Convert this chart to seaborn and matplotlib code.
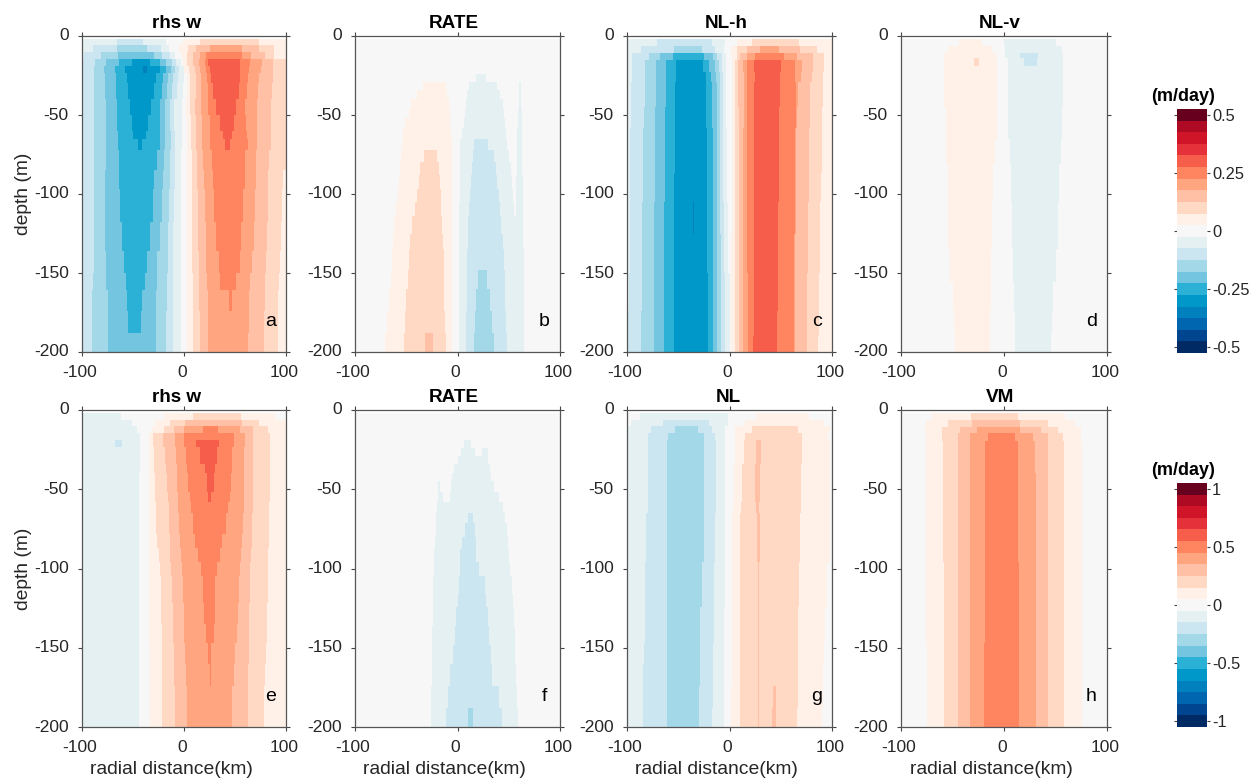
import numpy as np
import pandas as pd
import matplotlib
matplotlib.use("Agg")
import matplotlib.pyplot as plt
from matplotlib.colors import ListedColormap
from matplotlib.transforms import ScaledTranslation
import seaborn as sns

# each row reads: level, right edge (km), level, right edge, ..., last level
# a row reaches down to the depth given in the matching *_depths list

a_depths = [6, 10, 14.5, 19, 23.5, 30, 40, 50, 60, 65, 72, 85, 97, 118, 136, 150, 161, 174, 188, 200]
a_rows = [
    [-1,-66,-2,-40,-1,-18,0,-1,1,16,2,74,1],
    [-1,-89,-2,-66,-3,-36,-2,-23,-1,-15,0,-5,1,4,2,12,3,25,4,57,3,74,2,88,1],
    [-1,-98,-2,-81,-3,-65,-4,-29,-3,-22,-2,-14,-1,-9,0,-2,1,3,2,9,3,16,4,22,5,57,4,66,3,79,2,88,1],
    [-2,-87,-3,-76,-4,-64,-5,-51,-6,-33,-5,-24,-4,-18,-3,-12,-2,-8,-1,-3,0,-1,1,3,2,9,3,15,4,21,5,24,6,55,5,65,4,76,3,87,2],
    [-2,-88,-3,-78,-4,-68,-5,-58,-6,-40,-7,-36,-6,-24,-5,-18,-4,-13,-3,-9,-2,-5,-1,0,1,5,2,11,3,16,4,22,5,25,6,55,5,64,4,75,3,87,2],
    [-2,-88,-3,-77,-4,-67,-5,-56,-6,-27,-5,-21,-4,-16,-3,-11,-2,-6,-1,0,0,3,1,6,2,12,3,17,4,23,5,26,6,55,5,63,4,74,3,87,2],
    [-2,-88,-3,-77,-4,-67,-5,-55,-6,-29,-5,-22,-4,-17,-3,-12,-2,-7,-1,-1,0,3,1,6,2,12,3,17,4,24,5,28,6,54,5,62,4,73,3,86,2],
    [-2,-88,-3,-76,-4,-66,-5,-53,-6,-32,-5,-24,-4,-19,-3,-14,-2,-10,-1,-2,0,2,1,6,2,11,3,17,4,24,5,31,6,51,5,60,4,72,3,85,2],
    [-2,-88,-3,-76,-4,-66,-5,-51,-6,-35,-5,-24,-4,-19,-3,-14,-2,-10,-1,-2,0,3,1,7,2,12,3,18,4,25,5,35,6,49,5,61,4,72,3,85,2],
    [-2,-88,-3,-76,-4,-65,-5,-50,-6,-37,-5,-24,-4,-19,-3,-13,-2,-9,-1,-2,0,3,1,7,2,12,3,18,4,25,5,38,6,47,5,62,4,72,3,85,2],
    [-2,-88,-3,-76,-4,-65,-5,-45,-6,-41,-5,-24,-4,-19,-3,-13,-2,-9,-1,-2,0,3,1,7,2,12,3,18,4,25,5,40,6,45,5,63,4,72,3,85,2],
    [-2,-88,-3,-76,-4,-64,-5,-26,-4,-20,-3,-14,-2,-9,-1,-3,0,3,1,8,2,13,3,19,4,27,5,60,4,71,3,83,2],
    [-2,-88,-3,-77,-4,-64,-5,-29,-4,-21,-3,-14,-2,-9,-1,-3,0,3,1,8,2,13,3,20,4,28,5,60,4,71,3,82,2,97,1],
    [-2,-88,-3,-77,-4,-63,-5,-30,-4,-22,-3,-15,-2,-10,-1,-3,0,3,1,8,2,14,3,21,4,29,5,58,4,70,3,82,2,96,1],
    [-2,-88,-3,-77,-4,-61,-5,-33,-4,-24,-3,-16,-2,-11,-1,-3,0,3,1,8,2,14,3,22,4,31,5,56,4,69,3,81,2,95,1],
    [-2,-88,-3,-76,-4,-59,-5,-36,-4,-26,-3,-16,-2,-11,-1,-3,0,3,1,8,2,15,3,22,4,34,5,55,4,67,3,80,2,94,1],
    [-2,-89,-3,-76,-4,-57,-5,-38,-4,-26,-3,-17,-2,-11,-1,-3,0,3,1,9,2,15,3,23,4,35,5,51,4,65,3,79,2,93,1],
    [-2,-90,-3,-75,-4,-56,-5,-41,-4,-27,-3,-17,-2,-11,-1,-3,0,3,1,9,2,15,3,24,4,44,5,47,4,64,3,79,2,92,1],
    [-2,-90,-3,-75,-4,-55,-5,-42,-4,-27,-3,-18,-2,-11,-1,-3,0,3,1,9,2,16,3,24,4,64,3,78,2,92,1],
    [-2,-90,-3,-75,-4,-27,-3,-18,-2,-11,-1,-3,0,3,1,9,2,16,3,24,4,63,3,78,2,92,1],
]

b_depths = [24, 29, 34, 40, 46, 52, 58, 65, 72, 80, 88, 97, 105, 114, 125, 135, 148, 160, 174, 188, 200]
b_rows = [
    [0],
    [0,18,-1,28,0],
    [0,-34,1,-11,0,11,-1,39,0,60,-1,62,0],
    [0,-40,1,-10,0,9,-1,41,0,60,-1,62,0],
    [0,-45,1,-8,0,8,-1,44,0,60,-1,62,0],
    [0,-47,1,-7,0,7,-1,45,0,59,-1,63,0],
    [0,-51,1,-7,0,6,-1,46,0,59,-1,63,0],
    [0,-53,1,-6,0,4,-1,47,0,58,-1,63,0],
    [0,-54,1,-5,0,2,-1,16,-2,30,-1,48,0,58,-1,63,0],
    [0,-55,1,-33,2,-20,1,-5,0,2,-1,15,-2,36,-1,50,0,58,-1,63,0],
    [0,-56,1,-37,2,-18,1,-5,0,2,-1,14,-2,38,-1,52,0,58,-1,63,0],
    [0,-57,1,-38,2,-17,1,-5,0,1.5,-1,13,-2,39,-1,53,0,57,-1,64,0],
    [0,-58,1,-40,2,-16,1,-5,0,1.5,-1,12,-2,40,-1,54,0,57,-1,64,0],
    [0,-60,1,-41,2,-16,1,-5,0,1,-1,11,-2,41,-1,55,0,57,-1,64,0],
    [0,-62,1,-44,2,-15,1,-5,0,1,-1,10,-2,42,-1,64,0],
    [0,-63,1,-46,2,-14,1,-5,0,1,-1,10,-2,44,-1,64,0],
    [0,-64,1,-47,2,-13,1,-5,0,1,-1,9,-2,45,-1,65,0],
    [0,-65,1,-48,2,-13,1,-5,0,1,-1,9,-2,20,-3,29,-2,46,-1,65,0],
    [0,-67,1,-50,2,-13,1,-5,0,1,-1,9,-2,18,-3,32,-2,46,-1,65,0],
    [0,-69,1,-51,2,-12,1,-5,0,1,-1,8,-2,17,-3,34,-2,47,-1,65,0],
    [0,-71,1,-52,2,-32,3,-24,2,-11,1,-5,0,1,-1,8,-2,16,-3,36,-2,48,-1,65,0],
]

c_depths = [6.5, 10.5, 15, 23, 29, 45, 58, 87, 105, 125, 150, 174, 190, 200]
c_rows = [
    [-1,-71,-2,-17,-1,-4,0,7,1,22,2,68,1],
    [-1,-86,-2,-54,-3,-27,-2,-14,-1,-5,0,1,1,7,2,17,3,30,4,48,3,69,2,85,1],
    [-1,-95,-2,-79,-3,-68,-4,-55,-5,-25,-4,-16,-3,-12,-2,-7,-1,-3,0,2,1,7,2,10,3,17,4,25,5,53,4,66,3,81,2,92,1],
    [-1,-95,-2,-82,-3,-72,-4,-62,-5,-52,-6,-26,-5,-20,-4,-14,-3,-10,-2,-7,-1,-3,0,2,1,5,2,8,3,13,4,17,5,24,6,50,5,64,4,71,3,81,2,92,1],
    [-1,-95,-2,-82,-3,-72,-4,-62,-5,-52,-6,-23,-5,-18,-4,-13,-3,-9,-2,-6,-1,-3,0,2,1,5,2,8,3,14,4,17,5,25,6,49,5,64,4,70,3,80,2,91,1],
    [-1,-96,-2,-82,-3,-72,-4,-62,-5,-53,-6,-23,-5,-17,-4,-12,-3,-9,-2,-6,-1,-3,0,2,1,5,2,8,3,14,4,17,5,24,6,49,5,65,4,67,3,79,2,91,1],
    [-1,-96,-2,-83,-3,-73,-4,-63,-5,-53,-6,-23,-5,-17,-4,-12,-3,-9,-2,-6,-1,-3,0,2,1,5,2,9,3,14,4,17,5,24,6,48,5,65,4,66,3,79,2,90,1],
    [-1,-97,-2,-84,-3,-73,-4,-63,-5,-53,-6,-22,-5,-16,-4,-12,-3,-9,-2,-6,-1,-2,0,2,1,5,2,9,3,13,4,17,5,24,6,48,5,64,4,65,3,78,2,90,1],
    [-1,-97,-2,-84,-3,-73,-4,-63,-5,-54,-6,-22,-5,-16,-4,-12,-3,-9,-2,-6,-1,-2,0,2,1,5,2,9,3,13,4,17,5,24,6,48,5,64,4,65,3,78,2,89,1],
    [-1,-97,-2,-85,-3,-74,-4,-64,-5,-54,-6,-36,-7,-35,-6,-22,-5,-16,-4,-12,-3,-9,-2,-5,-1,-1,0,2,1,5,2,9,3,13,4,17,5,24,6,47,5,64,4,65,3,77,2,88,1],
    [-1,-97,-2,-85,-3,-74,-4,-64,-5,-54,-6,-22,-5,-16,-4,-12,-3,-8,-2,-5,-1,-1,0,1,1,5,2,9,3,13,4,17,5,24,6,47,5,63,4,64,3,77,2,88,1],
    [-1,-98,-2,-85,-3,-74,-4,-64,-5,-54,-6,-21,-5,-16,-4,-12,-3,-8,-2,-4,-1,0,0,1,1,5,2,9,3,13,4,18,5,24,6,47,5,63,4,64,3,76,2,87,1],
    [-2,-86,-3,-74,-4,-64,-5,-54,-6,-21,-5,-16,-4,-12,-3,-8,-2,-4,-1,0,0,1,1,5,2,9,3,13,4,18,5,24,6,46,5,63,4,64,3,76,2,87,1],
    [-2,-86,-3,-74,-4,-64,-5,-54,-6,-21,-5,-16,-4,-12,-3,-8,-2,-4,-1,0,0,1,1,5,2,9,3,13,4,18,5,23,6,46,5,63,4,64,3,76,2,86,1],
]

d_depths = [6.5, 10.5, 14, 19, 45, 65, 81, 105, 135, 156, 174, 188, 200]
d_rows = [
    [0,-44,1,-21,0,0,-1,50,0],
    [0,-54,1,-12,0,1,-1,56,0],
    [0,-58,1,-8,0,1,-1,16,-2,33,-1,57,0],
    [0,-58,1,-29,2,-24,1,-7,0,4,-1,19,-2,32,-1,57,0],
    [0,-58,1,-7,0,4,-1,57,0],
    [0,-56,1,-7,0,4,-1,56,0],
    [0,-56,1,-9,0,6,-1,55,0],
    [0,-54,1,-11,0,7,-1,53,0],
    [0,-54,1,-12,0,8,-1,52,0],
    [0,-52,1,-13,0,9,-1,50,0],
    [0,-50,1,-13,0,10,-1,48,0],
    [0,-49,1,-14,0,11,-1,47,0],
    [0,-48,1,-14,0,11,-1,46,0],
]

e_depths = [6.5, 10, 14.5, 19, 23.5, 34, 40, 51.5, 58, 65, 78, 87, 96, 105, 122, 135, 147, 160, 174, 200]
e_rows = [
    [-1,-62,0,-20,1,9,2,56,1,89,0],
    [-1,-51,0,-28,1,-14,2,1,3,57,2,74,1],
    [-1,-46,0,-31,1,-20,2,-10,3,0,4,19,5,33,4,55,3,68,2,82,1],
    [-1,-43,0,-34,1,-30,2,-21,3,-9,4,0,5,49,4,60,3,68,2,84,1],
    [-1,-68,-2,-61,-1,-43,0,-34,1,-30,2,-21,3,-9,4,0,5,12,6,34,5,49,4,60,3,68,2,84,1],
    [-1,-43,0,-34,1,-29,2,-19,3,-8,4,2,5,16,6,32,5,47,4,59,3,68,2,84,1],
    [-1,-43,0,-34,1,-29,2,-18,3,-7,4,3,5,21,6,30,5,47,4,59,3,68,2,84,1],
    [-1,-44,0,-34,1,-28,2,-17,3,-7,4,4,5,23,6,29,5,46,4,59,3,68,2,84,1],
    [-1,-44,0,-34,1,-28,2,-16,3,-6,4,6,5,24,6,26,5,45,4,59,3,68,2,84,1],
    [-1,-44,0,-34,1,-27,2,-15,3,-6,4,7,5,43,4,59,3,68,2,83,1],
    [-1,-44,0,-34,1,-27,2,-15,3,-5,4,9,5,41,4,58,3,67,2,83,1],
    [-1,-44,0,-34,1,-26,2,-14,3,-4,4,11,5,37,4,57,3,67,2,83,1],
    [-1,-44,0,-34,1,-25,2,-14,3,-3,4,14,5,35,4,56,3,66,2,82,1],
    [-1,-44,0,-34,1,-24,2,-13,3,-2,4,17,5,32,4,55,3,65,2,82,1],
    [-1,-44,0,-34,1,-23,2,-12,3,-1,4,19,5,30,4,54,3,65,2,82,1],
    [-1,-44,0,-34,1,-23,2,-11,3,0,4,20,5,30,4,53,3,64,2,81,1],
    [-1,-44,0,-34,1,-22,2,-11,3,0,4,22,5,29,4,52,3,64,2,81,1],
    [-1,-44,0,-33,1,-22,2,-10,3,1,4,24,5,26,4,50,3,64,2,80,1],
    [-1,-44,0,-33,1,-22,2,-10,3,2,4,25,5,26,4,49,3,63,2,79,1],
    [-1,-44.5,0,-33,1,-22,2,-9,3,3,4,47,3,63,2,78,1],
]

f_depths = [19, 24, 29, 34, 40, 45, 51.5, 58, 65, 71.5, 80, 88, 96, 105, 116, 124, 136, 148, 160, 174, 188, 200]
f_rows = [
    [0],
    [0,6,-1,13,0],
    [0,3,-1,17,0,24,-1,30,0],
    [0,0,-1,30,0],
    [0,-3,-1,32,0],
    [0,-5,-1,33,0],
    [0,-19,-1,-17,0,-6,-1,36,0],
    [0,-19,-1,-14,0,-7,-1,40,0],
    [0,-20,-1,44,0],
    [0,-21,-1,10,-2,15,-1,46,0],
    [0,-21,-1,7,-2,17,-1,48,0],
    [0,-22,-1,4,-2,18,-1,49,0],
    [0,-23,-1,2,-2,18,-1,50,0],
    [0,-23,-1,2,-2,21,-1,51,0],
    [0,-24,-1,1,-2,27,-1,53,0],
    [0,-24,-1,0,-2,28,-1,54,0],
    [0,-24,-1,-1,-2,30,-1,55,0],
    [0,-25,-1,-2,-2,31,-1,56,0],
    [0,-25,-1,-4,-2,33,-1,56,0],
    [0,-25,-1,-7,-2,34,-1,57,0],
    [0,-26,-1,-9,-2,40,-1,58,0],
    [0,-26,-1,-11,-2,10,-3,15,-2,43,-1,59,0],
]

g_depths = [6, 10, 14.5, 19, 34, 58, 65, 96, 124, 147, 160, 174, 188, 200]
g_rows = [
    [0,-87,-1,-1,0,26,1,78,0],
    [0,-96,-1,-65,-2,-20,-1,-1,0,15,1,92,0],
    [-1,-77,-2,-53,-3,-31,-2,-17,-1,-4,0,5,1,22,2,67,1,98,0],
    [-1,-80,-2,-60,-3,-25,-2,-14,-1,-4,0,5,1,15,2,71,1,96,0],
    [-1,-80,-2,-61,-3,-25,-2,-13,-1,-4,0,5,1,14,2,26,3,31,2,71,1,98,0],
    [-1,-80,-2,-61,-3,-25,-2,-13,-1,-4,0,4,1,12,2,25,3,30,2,70,1,98,0],
    [-1,-80,-2,-61,-3,-25,-2,-13,-1,-4,0,3,1,11,2,26,3,29,2,70,1,98,0],
    [-1,-81,-2,-61,-3,-25,-2,-14,-1,-4,0,2,1,10,2,27,3,30,2,69,1,98,0],
    [-1,-82,-2,-61,-3,-27,-2,-15,-1,-4,0,2,1,10,2,28,3,29,2,68,1,95,0],
    [-1,-82,-2,-61,-3,-29,-2,-15,-1,-5,0,2,1,10,2,28,3,29,2,67,1,93,0],
    [-1,-83,-2,-61,-3,-29,-2,-16,-1,-5,0,2,1,10,2,28,3,29,2,67,1,92,0],
    [-1,-84,-2,-61,-3,-29,-2,-16,-1,-5,0,2,1,10,2,28,3,29,2,67,1,91,0],
    [-1,-84,-2,-61,-3,-30,-2,-16,-1,-5,0,1,1,10,2,28,3,29,2,42,3,45,2,67,1,91,0],
    [-1,-84,-2,-61,-3,-30,-2,-17,-1,-5,0,1,1,10,2,28,3,29,2,41,3,45,2,66,1,90,0],
]

h_depths = [6.5, 10.5, 14.5, 19.5, 40, 96, 147, 200]
h_rows = [
    [0,-70,1,-32,2,14,1,59,0],
    [0,-76,1,-54,2,-31,3,16,2,43,1,69,0],
    [0,-77,1,-60,2,-43,3,-26,4,16,3,36,2,52,1,75,0],
    [0,-76,1,-60,2,-45,3,-33,4,-16,5,11,4,28,3,43,2,57,1,75,0],
    [0,-76,1,-59,2,-45,3,-33,4,-18,5,14,4,30,3,43,2,58,1,76,0],
    [0,-76,1,-59,2,-45,3,-33,4,-18,5,14,4,31,3,43,2,58,1,76,0],
    [0,-76,1,-58,2,-45,3,-33,4,-18,5,15,4,31,3,43,2,58,1,76,0],
    [0,-75,1,-58,2,-45,3,-33,4,-19,5,15,4,31,3,43,2,58,1,76,0],
]

titles = ["rhs w", "RATE", "NL-h", "NL-v", "rhs w", "RATE", "NL", "VM"]
letters = ["a", "b", "c", "d", "e", "f", "g", "h"]
depth_ticks = [0, -50, -100, -150, -200]
radial_ticks = [-100, 0, 100]
cbar_ticks_top = [-0.5, -0.25, 0, 0.25, 0.5]
cbar_ticks_bot = [-1, -0.5, 0, 0.5, 1]
cbar_labels_top = ["-0.5", "-0.25", "0", "0.25", "0.5"]
cbar_labels_bot = ["-1", "-0.5", "0", "0.5", "1"]
level_colors = ["#002a63", "#004590", "#0066b0", "#0080bd", "#0098c8", "#2bb0d6",
                "#74c5df", "#a3d8e8", "#cbe6f0", "#e5f0f3", "#f7f7f7", "#fff0e8",
                "#ffd9c4", "#ffc0a5", "#ffa57f", "#ff8560", "#f65e4b", "#e5323a",
                "#d01528", "#ae0a24", "#67001f"]

W, H = 1249, 778
dark = "#262626"

sns.set_style("white")
plt.rcParams["font.family"] = ["Liberation Sans", "DejaVu Sans"]

x_km = np.arange(-99.5, 100, 1.0)
z_m = np.arange(0.25, 200, 0.5)


def make_frame(depths, rows, step):
    # field is blank above the first model level
    grid = np.full((z_m.size, x_km.size), np.nan)
    top = 2
    for z, row in zip(depths, rows):
        levels = np.array(row[::2])
        edges = np.array(row[1::2])
        vals = levels[np.searchsorted(edges, x_km)] * step
        grid[(z_m > top) & (z_m <= z)] = vals
        top = z
    return pd.DataFrame(grid, index=z_m, columns=x_km)


def add_axes(left, top, right, bottom):
    return fig.add_axes([left / W, 1 - bottom / H, (right - left) / W, (bottom - top) / H])


fig = plt.figure(figsize=(W / 100, H / 100), dpi=100)
cmap = ListedColormap(level_colors)

all_depths = [a_depths, b_depths, c_depths, d_depths, e_depths, f_depths, g_depths, h_depths]
all_rows = [a_rows, b_rows, c_rows, d_rows, e_rows, f_rows, g_rows, h_rows]
lefts = [(82, 286), (355, 560), (627, 832), (901, 1107)]
tops = [(36, 352), (410, 727)]
cbar_boxes = [(1177, 109, 1207, 353), (1177, 483, 1207, 727)]
title_px = [176, 454, 726, 1000, 176, 454, 728, 1000]

# the x tick labels sit a little left of their ticks
nudge = ScaledTranslation(-2 / 100, 0, fig.dpi_scale_trans)

for i in range(8):
    r = i // 4
    c = i % 4
    x0, x1 = lefts[c]
    ax = add_axes(x0, tops[r][0], x1, tops[r][1])
    step = 0.05 if r == 0 else 0.1
    frame = make_frame(all_depths[i], all_rows[i], step)

    sns.heatmap(frame, ax=ax, cmap=cmap, vmin=-10.5 * step, vmax=10.5 * step, cbar=False)

    ax.set_xticks([(t + 100) / 1.0 for t in radial_ticks])
    ax.set_xticklabels([str(t) for t in radial_ticks], rotation=0, fontsize=12.5, color=dark)
    ax.set_yticks([-t * 2 for t in depth_ticks])
    ax.set_yticklabels([str(t) for t in depth_ticks], rotation=0, fontsize=12.5, color=dark)
    ax.tick_params(direction="out", length=2.6, width=0.8, color="#444444",
                   top=True, bottom=True, left=True, right=True)
    ax.tick_params(axis="x", pad=6.8)
    ax.tick_params(axis="y", pad=7)
    for lab in ax.get_xticklabels():
        lab.set_transform(lab.get_transform() + nudge)
    for s in ax.spines.values():
        s.set_visible(True)
        s.set_color("#555555")
        s.set_linewidth(0.9)

    ax.set_title(titles[i], fontsize=13.6, fontweight="bold", color="black", pad=5.5,
                 x=(title_px[i] - x0) / (x1 - x0))
    ax.text(0.925, 0.095, letters[i], transform=ax.transAxes, ha="center", va="center",
            fontsize=14, color="black")
    ax.set_xlabel("radial distance(km)" if r == 1 else "", fontsize=13.9, color=dark,
                  labelpad=4.6, x=0.437)
    ax.set_ylabel("depth (m)" if c == 0 else "", fontsize=13.9, color=dark, labelpad=1)

# colorbars, one for each row of panels
for r in range(2):
    step = 0.05 if r == 0 else 0.1
    box = cbar_boxes[r]
    cax = add_axes(box[0], box[1], box[2], box[3])
    ticks = cbar_ticks_top if r == 0 else cbar_ticks_bot
    labels = cbar_labels_top if r == 0 else cbar_labels_bot
    dummy = fig.add_axes([0, 0, 0.001, 0.001])
    sns.heatmap(pd.DataFrame([[0.0]]), ax=dummy, cmap=cmap, vmin=-10.5 * step, vmax=10.5 * step,
                cbar_ax=cax, cbar_kws={"ticks": ticks})
    dummy.set_visible(False)
    cax.set_yticks(ticks)
    cax.set_yticklabels(labels, fontsize=11.8, color=dark)
    cax.tick_params(direction="out", length=2.2, width=0.8, color="#444444", pad=1.5,
                    left=True, right=True)
    cax.text(0.2, 1.053, "(m/day)", transform=cax.transAxes, ha="center", va="center",
             fontsize=13, fontweight="bold", color="black")

fig.savefig("out.png", dpi=100)
